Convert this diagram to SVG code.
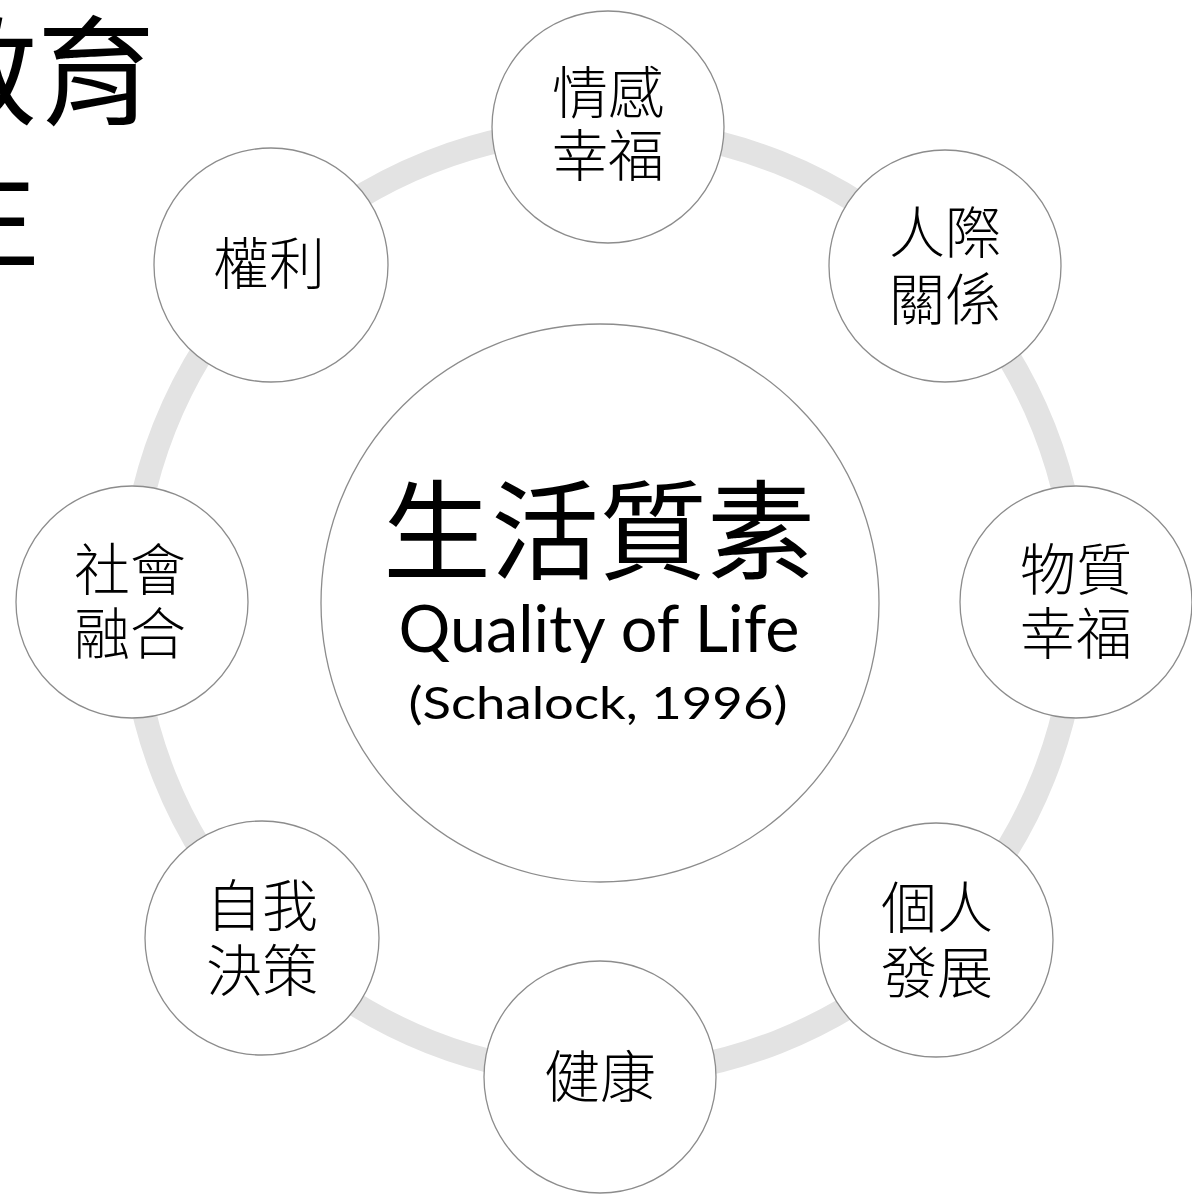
<svg xmlns="http://www.w3.org/2000/svg" width="1192" height="1196" viewBox="0 0 1192 1196">
<style>
.bg{fill:#ffffff}
.ring{fill:none;stroke:#e3e3e3;stroke-width:24}
.node{fill:#ffffff;stroke:#8c8c8c;stroke-width:1.3}
.lbl{font-family:"Noto Sans CJK TC Light","Noto Sans CJK TC DemiLight","Noto Sans CJK TC","Noto Sans CJK SC",sans-serif;font-weight:300;font-size:56px;fill:#000;text-anchor:middle}
.title{font-family:"Noto Sans CJK TC","Noto Sans CJK SC",sans-serif;font-size:118px;fill:#000}
.main{font-family:"Noto Sans CJK TC","Noto Sans CJK SC",sans-serif;font-size:108px;font-weight:400;fill:#000;text-anchor:middle}
.en{font-family:Lato,"Open Sans",sans-serif;fill:#000;text-anchor:middle}
</style>
<rect class="bg" x="0" y="0" width="1192" height="1196"/>
<g id="title">
<text class="title" x="155" y="116" text-anchor="end">教育</text>
<text class="title" x="40" y="259" text-anchor="end">生</text>
</g>
<g id="connectors">
<circle class="ring" cx="604" cy="602" r="473"/>
</g>
<g id="center">
<circle class="node" cx="600" cy="603" r="279"/>
<text class="main" x="599" y="571">生活質素</text>
<text class="en" x="599" y="652" font-size="66" textLength="401" lengthAdjust="spacingAndGlyphs">Quality of Life</text>
<text class="en" x="598" y="719" font-size="45" textLength="379" lengthAdjust="spacingAndGlyphs">(Schalock, 1996)</text>
</g>
<g id="n-emotional">
<circle class="node" cx="608" cy="127" r="116"/>
<text class="lbl" x="608" y="113">情感</text>
<text class="lbl" x="608" y="176">幸福</text>
</g>
<g id="n-interpersonal">
<circle class="node" cx="945" cy="266" r="116"/>
<text class="lbl" x="945" y="253">人際</text>
<text class="lbl" x="945" y="320">關係</text>
</g>
<g id="n-material">
<circle class="node" cx="1076" cy="602" r="116"/>
<text class="lbl" x="1076" y="590">物質</text>
<text class="lbl" x="1076" y="654">幸福</text>
</g>
<g id="n-personal">
<circle class="node" cx="936" cy="940" r="117"/>
<text class="lbl" x="937" y="928">個人</text>
<text class="lbl" x="937" y="993">發展</text>
</g>
<g id="n-health">
<circle class="node" cx="600" cy="1077" r="116"/>
<text class="lbl" x="600" y="1097">健康</text>
</g>
<g id="n-self">
<circle class="node" cx="262" cy="938" r="117"/>
<text class="lbl" x="262" y="926">自我</text>
<text class="lbl" x="262" y="991">決策</text>
</g>
<g id="n-social">
<circle class="node" cx="132" cy="602" r="116"/>
<text class="lbl" x="130" y="590">社會</text>
<text class="lbl" x="130" y="654">融合</text>
</g>
<g id="n-rights">
<circle class="node" cx="271" cy="265" r="117"/>
<text class="lbl" x="269" y="284">權利</text>
</g>
</svg>
